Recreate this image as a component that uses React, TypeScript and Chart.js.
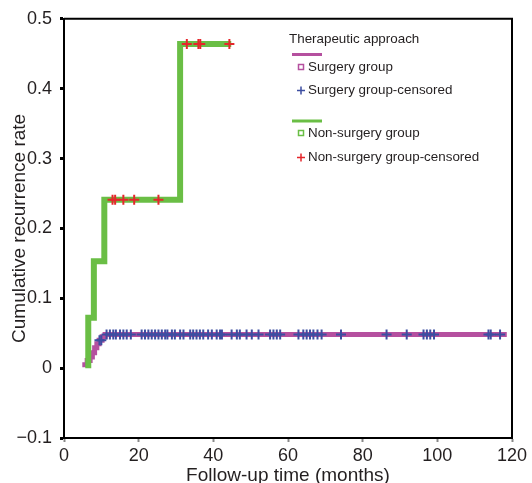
import React, { useEffect, useRef } from 'react';
import { Chart, registerables } from 'chart.js';

Chart.register(...registerables);

// ---- Data ----
const surgeryTimes = [4.9, 6.2, 7.0, 7.6, 8.2, 8.8, 9.4, 10.2, 11.0, 118.6];
const surgeryRates = [0.005, 0.011, 0.016, 0.022, 0.029, 0.035, 0.040, 0.045, 0.048, 0.048];
const surgeryCensored = [
  9.5, 10.0, 11.4, 12.3, 13.2, 13.9, 15.0, 15.9, 16.8, 17.9, 20.8, 21.7, 22.6, 23.5,
  24.4, 25.3, 26.2, 27.1, 27.7, 28.9, 29.7, 31.1, 32.0, 33.8, 34.6, 35.5, 36.4, 37.3,
  38.6, 39.6, 40.9, 41.8, 42.3, 44.9, 46.3, 47.1, 48.9, 50.3, 52.1, 55.2, 56.1, 57.0,
  57.9, 62.8, 64.1, 65.0, 65.9, 66.8, 67.9, 69.0, 74.2, 86.4, 91.8, 96.3, 97.2, 98.1,
  99.1, 113.7, 114.3, 116.8,
];
const nonSurgeryTimes = [6.5, 6.5, 8.0, 10.8, 31.1, 44.8];
const nonSurgeryRates = [0, 0.072, 0.153, 0.241, 0.464, 0.464];
const nonSurgeryCensored = [13.0, 13.7, 15.9, 18.8, 25.3, 32.9, 36.0, 36.5, 44.3];

const xTicks = [0, 20, 40, 60, 80, 100, 120];
const yTicks = [-0.1, 0, 0.1, 0.2, 0.3, 0.4, 0.5];

const legendTitle = 'Therapeutic approach';
const seriesNames = ['Surgery group', 'Surgery group-censored', 'Non-surgery group', 'Non-surgery group-censored'];
const xTitle = 'Follow-up time (months)';
const yTitle = 'Cumulative recurrence rate';

const PURPLE = '#b5509f';
const BLUE = '#3d4ea1';
const GREEN = '#6abe45';
const RED = '#e5262b';
const FONT = '"Liberation Sans", Arial, Helvetica, sans-serif';

function rateAt(times: number[], rates: number[], t: number) {
  let r = rates[0];
  for (let i = 0; i < times.length; i++) {
    if (times[i] <= t) r = rates[i];
  }
  return r;
}

const frameAndLegend = {
  id: 'frameAndLegend',
  afterDraw(chart: any) {
    const { ctx, chartArea } = chart;
    ctx.save();
    // frame (top & right)
    ctx.strokeStyle = '#000';
    ctx.lineWidth = 2;
    ctx.beginPath();
    ctx.moveTo(chartArea.left, chartArea.top);
    ctx.lineTo(chartArea.right, chartArea.top);
    ctx.lineTo(chartArea.right, chartArea.bottom);
    ctx.stroke();

    // legend
    ctx.font = `13.4px ${FONT}`;
    ctx.fillStyle = '#231f20';
    ctx.textBaseline = 'middle';
    ctx.textAlign = 'left';
    ctx.fillText(legendTitle, 289, 39.5);

    const drawLine = (color: string, y: number) => {
      ctx.strokeStyle = color;
      ctx.lineWidth = 3;
      ctx.beginPath();
      ctx.moveTo(292, y);
      ctx.lineTo(322, y);
      ctx.stroke();
    };
    const drawSquare = (color: string, y: number) => {
      ctx.strokeStyle = color;
      ctx.lineWidth = 1.5;
      ctx.strokeRect(298.5, y - 2.5, 5, 5);
    };
    const drawCross = (color: string, y: number) => {
      ctx.strokeStyle = color;
      ctx.lineWidth = 1.5;
      ctx.beginPath();
      ctx.moveTo(297, y);
      ctx.lineTo(305, y);
      ctx.moveTo(301, y - 4);
      ctx.lineTo(301, y + 4);
      ctx.stroke();
    };

    drawLine(PURPLE, 54.5);
    drawSquare(PURPLE, 67);
    ctx.fillStyle = '#231f20';
    ctx.fillText(seriesNames[0], 308, 67);
    drawCross(BLUE, 90.5);
    ctx.fillText(seriesNames[1], 308, 90.5);

    drawLine(GREEN, 121);
    drawSquare(GREEN, 133);
    ctx.fillText(seriesNames[2], 308, 133);
    drawCross(RED, 157.5);
    ctx.fillText(seriesNames[3], 308, 157.5);
    ctx.restore();
  },
};

export default function App() {
  const canvasRef = useRef<HTMLCanvasElement | null>(null);

  useEffect(() => {
    const canvas = canvasRef.current;
    if (!canvas) return;

    const surgeryLine = surgeryTimes.map((t, i) => ({ x: t, y: surgeryRates[i] }));
    const surgeryCens = surgeryCensored.map((t) => ({ x: t, y: rateAt(surgeryTimes, surgeryRates, t) }));
    const nonLine = nonSurgeryTimes.map((t, i) => ({ x: t, y: nonSurgeryRates[i] }));
    const nonCens = nonSurgeryCensored.map((t) => ({ x: t, y: rateAt(nonSurgeryTimes, nonSurgeryRates, t) }));

    const chart = new Chart(canvas, {
      type: 'line',
      data: {
        datasets: [
          {
            label: seriesNames[3],
            data: nonCens,
            showLine: false,
            pointStyle: 'cross',
            pointRadius: 5,
            pointBorderWidth: 2,
            pointBorderColor: RED,
            pointBackgroundColor: RED,
            borderColor: RED,
            order: 0,
          },
          {
            label: seriesNames[2],
            data: nonLine,
            stepped: true,
            borderColor: GREEN,
            borderWidth: 6,
            pointRadius: 0,
            fill: false,
            order: 1,
          },
          {
            label: seriesNames[1],
            data: surgeryCens,
            showLine: false,
            pointStyle: 'cross',
            pointRadius: 5,
            pointBorderWidth: 2,
            pointBorderColor: BLUE,
            pointBackgroundColor: BLUE,
            borderColor: BLUE,
            order: 2,
          },
          {
            label: seriesNames[0],
            data: surgeryLine,
            stepped: true,
            borderColor: PURPLE,
            borderWidth: 5,
            pointRadius: 0,
            fill: false,
            order: 3,
          },
        ] as any,
      },
      options: {
        animation: false,
        responsive: false,
        maintainAspectRatio: false,
        layout: { padding: { left: 0, right: 20, top: 15, bottom: 0 } },
        plugins: {
          legend: { display: false },
          tooltip: { enabled: false },
        },
        scales: {
          x: {
            type: 'linear',
            min: 0,
            max: 120,
            afterBuildTicks: (scale: any) => {
              scale.ticks = xTicks.map((v) => ({ value: v }));
            },
            afterFit: (scale: any) => {
              scale.height = 45;
            },
            ticks: {
              font: { family: FONT, size: 18 },
              color: '#231f20',
              padding: 3,
              maxRotation: 0,
              callback: (v: any) => String(v),
            },
            grid: {
              drawOnChartArea: false,
              drawTicks: true,
              tickLength: 4,
              tickWidth: 2,
              tickColor: '#888',
            },
            border: { display: true, color: '#000', width: 2 },
            title: {
              display: true,
              text: xTitle,
              font: { family: FONT, size: 19 },
              color: '#231f20',
              padding: { top: 0, bottom: -4 },
            },
          },
          y: {
            type: 'linear',
            min: -0.1,
            max: 0.5,
            afterBuildTicks: (scale: any) => {
              scale.ticks = yTicks.map((v) => ({ value: v }));
            },
            afterFit: (scale: any) => {
              scale.width = 64;
            },
            ticks: {
              font: { family: FONT, size: 18 },
              color: '#231f20',
              padding: 8,
              callback: (v: any) => {
                const n = Math.round(Number(v) * 10) / 10;
                if (n === 0) return '0';
                return n < 0 ? '\u2212' + Math.abs(n).toFixed(1) : n.toFixed(1);
              },
            },
            grid: {
              drawOnChartArea: false,
              drawTicks: true,
              tickLength: 4,
              tickWidth: 3,
              tickColor: '#000',
            },
            border: { display: true, color: '#000', width: 2 },
            title: {
              display: true,
              text: yTitle,
              font: { family: FONT, size: 19 },
              color: '#231f20',
              padding: { top: 8.6, bottom: 0 },
            },
          },
        },
      } as any,
      plugins: [frameAndLegend],
    });

    return () => chart.destroy();
  }, []);

  return (
    <div style={{ position: 'absolute', left: 0, top: 0, width: 532, height: 483, background: '#fff' }}>
      <canvas ref={canvasRef} width={532} height={483} style={{ display: 'block', width: 532, height: 483 }} />
    </div>
  );
}
